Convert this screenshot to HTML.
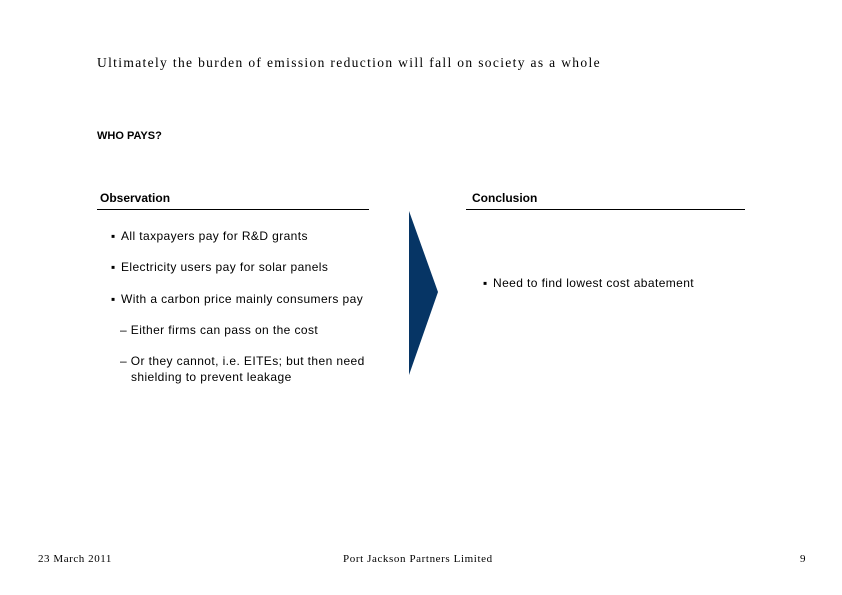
<!DOCTYPE html>
<html><head><meta charset="utf-8"><style>
body{margin:0;background:#fff;}
#p{position:relative;width:842px;height:595px;overflow:hidden;font-family:"Liberation Sans",Arial,sans-serif;color:#000;}
.t{position:absolute;white-space:nowrap;font-size:12px;letter-spacing:0.4px;}
.s{font-family:"Liberation Serif",serif;}
.b{font-weight:bold;letter-spacing:0;}
.l{position:absolute;height:1px;background:#000;}
</style></head><body><div id="p">
<div class="t s" style="left:97px;top:55px;font-size:13.5px;letter-spacing:1.34px;">Ultimately the burden of emission reduction will fall on society as a whole</div>
<div class="t b" style="left:97px;top:130px;font-size:11px;">WHO PAYS?</div>
<div class="t b" style="left:100px;top:191px;font-size:12px;">Observation</div>
<div class="l" style="left:97px;top:209px;width:272px;"></div>
<div class="t b" style="left:472px;top:191px;font-size:12px;">Conclusion</div>
<div class="l" style="left:466px;top:209px;width:279px;"></div>
<div class="t" style="left:111px;top:229px;">▪</div><div class="t" style="left:121px;top:229px;">All taxpayers pay for R&amp;D grants</div>
<div class="t" style="left:111px;top:260px;">▪</div><div class="t" style="left:121px;top:260px;">Electricity users pay for solar panels</div>
<div class="t" style="left:111px;top:292px;">▪</div><div class="t" style="left:121px;top:292px;">With a carbon price mainly consumers pay</div>
<div class="t" style="left:120px;top:323px;">– Either firms can pass on the cost</div>
<div class="t" style="left:120px;top:354px;">– Or they cannot, i.e. EITEs; but then need</div>
<div class="t" style="left:131px;top:370px;">shielding to prevent leakage</div>
<div class="t" style="left:483px;top:276px;">▪</div><div class="t" style="left:493px;top:276px;">Need to find lowest cost abatement</div>
<svg style="position:absolute;left:0;top:0" width="842" height="595"><polygon points="409,211 438,292 409,375" fill="#063565"/></svg>
<div class="t s" style="left:38px;top:553px;font-size:11px;letter-spacing:0.55px;">23 March 2011</div>
<div class="t s" style="left:343px;top:553px;font-size:11px;letter-spacing:0.6px;">Port Jackson Partners Limited</div>
<div class="t s" style="left:800px;top:553px;font-size:11px;">9</div>
</div></body></html>
